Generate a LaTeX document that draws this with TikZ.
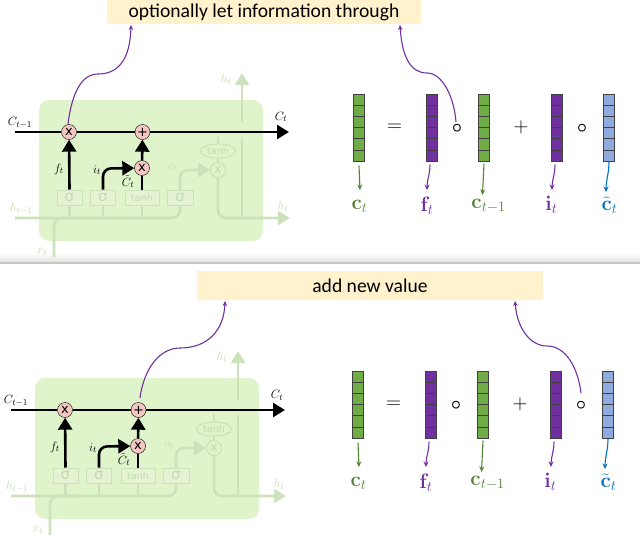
\documentclass[tikz,border=0pt]{standalone}
\usepackage{amsmath,amssymb}
\usepackage{xcolor}
\usepackage[no-math]{fontspec}
\setmainfont{Carlito}
\newfontfamily\cellfont{DejaVu Sans}
\usetikzlibrary{arrows.meta, shapes.geometric, positioning, calc}

\definecolor{cellgreen}{HTML}{DFF4CB}
\definecolor{fadeline}{HTML}{CDE2BC}
\definecolor{fadebox}{HTML}{E6F3D3}
\definecolor{fadetext}{HTML}{C4DBB2}
\definecolor{gatepink}{HTML}{F4C7C3}
\definecolor{notefill}{HTML}{FFF2CC}
\definecolor{vecgreen}{HTML}{70AD47}
\definecolor{vecpurple}{HTML}{7030A0}
\definecolor{vecblue}{HTML}{8FAADC}
\definecolor{arrgreen}{HTML}{548235}
\definecolor{arrblue}{HTML}{0070C0}

\tikzset{
  gate/.style={circle, draw=black, fill=gatepink, inner sep=0pt, minimum size=15pt,
               font=\cellfont\fontsize{13}{13}\selectfont},
  fadegate/.style={circle, draw=fadeline, fill=cellgreen, line width=1pt, inner sep=0pt,
               minimum size=15pt, text=fadetext, font=\cellfont\fontsize{13}{13}\selectfont},
  layerbox/.style={rectangle, draw=fadeline, fill=fadebox, line width=1pt, inner sep=0pt,
               minimum height=15pt, text=fadetext, font=\cellfont\fontsize{9.5}{9.5}\selectfont},
  sigbox/.style={layerbox, font=\cellfont\fontsize{15}{15}\selectfont},
  tanhnode/.style={ellipse, draw=fadeline, fill=cellgreen, line width=1pt, inner sep=0pt,
               minimum width=35pt, minimum height=14pt, text=fadetext,
               font=\cellfont\fontsize{9.5}{9.5}\selectfont},
  mainarr/.style={line width=2.6pt, -{Triangle[length=12pt,width=14pt]}},
  mainline/.style={line width=2.6pt},
  fadearr/.style={draw=fadeline, line width=2.6pt, -{Triangle[length=12pt,width=14pt]}},
  fadeln/.style={draw=fadeline, line width=2.6pt, rounded corners=8pt},
  lab/.style={inner sep=0pt, font=\fontsize{13}{13}\selectfont},
  fadelab/.style={lab, text=fadetext},
  note/.style={rectangle, fill=notefill, inner sep=0pt, font=\fontsize{19.6}{19.6}\selectfont},
  curve/.style={draw=vecpurple, line width=1.1pt, -{Stealth[length=5pt,width=4.5pt]}},
  veccell/.style={rectangle, draw=black!75, line width=0.9pt, inner sep=0pt,
               minimum width=11.5pt, minimum height=11.2pt},
  vecarr/.style={line width=1.1pt, -{Stealth[length=5.5pt,width=5pt]}},
  oper/.style={inner sep=0pt, font=\fontsize{20}{20}\selectfont},
  ringop/.style={inner sep=0pt, font=\fontsize{16}{16}\selectfont},
  veclab/.style={inner sep=0pt, font=\fontsize{21}{21}\selectfont}
}

% one LSTM cell, greyed parts first
\newcommand{\cellpanel}{%
  \node[fill=cellgreen, rounded corners=10pt, minimum width=224pt, minimum height=141pt, inner sep=0pt] (body) at (151,170.5) {};
  \node[sigbox, minimum width=25pt] (sigf) at (69.5,197.5) {σ};
  \node[sigbox, minimum width=25pt] (sigi) at (103,197.5) {σ};
  \node[layerbox, minimum width=34pt] (tanhc) at (142,197.5) {tanh};
  \node[sigbox, minimum width=26pt] (sigo) at (180,197.5) {σ};
  \node[fadegate] (mulo) at (218,170) {x};
  \node[tanhnode] (tanho) at (218,151) {tanh};
  \coordinate (hin) at (15,218);
  \coordinate (xin) at (54,257);
  \coordinate (hout) at (290,218);
  \coordinate (hup) at (242,73);
  \coordinate (hgap) at (242,137);
  \coordinate (hgapup) at (242,122);
  \draw[fadeln] (hin) -- (180,218) -- (sigo.south);
  \draw[fadeln] (xin) -- (54,218) -- (80,218);
  \draw[fadeln] (sigf.south) -- (69.5,218);
  \draw[fadeln] (sigi.south) -- (103,218);
  \draw[fadeln] (tanhc.south) -- (142,218);
  \draw[fadearr, rounded corners=8pt] (sigo.north) -- (180,170) -- (mulo.west);
  \draw[fadearr, rounded corners=8pt] (mulo.south) -- (218,218) -- (hout);
  \draw[fadeln] (242,218) -- (hgap);
  \draw[fadearr] (hgapup) -- (hup);
  \draw[fadeln] (tanho.south) -- (mulo.north);
  \draw[fadeln] (tanho.north) -- (218,136);
  \node[fadelab] (loh) at (21,209) {$h_{t-1}$};
  \node[fadelab] (lox) at (42,252) {$x_t$};
  \node[fadelab] (loo) at (173,168) {$o_t$};
  \node[fadelab] (lhu) at (226,79) {$h_t$};
  \node[fadelab] (lhr) at (283,206) {$h_t$};
  % the black path
  \node[gate] (mulf) at (69,132) {x};
  \node[gate] (add) at (142.5,132) {+};
  \node[gate] (muli) at (142,168) {x};
  \coordinate (cin) at (15,132);
  \coordinate (cout) at (289,132);
  \draw[mainline] (cin) -- (mulf);
  \draw[mainline] (mulf) -- (add);
  \draw[mainarr] (add) -- (cout);
  \draw[mainarr] (sigf.north) -- (mulf);
  \draw[mainarr, rounded corners=8pt] (sigi.north) -- (103,168.5) -- (muli);
  \draw[mainarr] (muli) -- (add);
  \draw[mainline] (tanhc.north) -- (muli);
  \node[lab] (lcp) at (20,123) {$C_{t-1}$};
  \node[lab] (lcn) at (281,117) {$C_t$};
  \node[lab] (lf) at (59,169) {$f_t$};
  \node[lab] (li) at (97,170) {$i_t$};
  \node[lab] (lct) at (128,181.5) {$\tilde{C}_t$};
}

% vectors of the equation, x positions come from the list
\newcommand{\vecrow}{%
  \foreach \vname/\vx/\vcol in {vc/359/vecgreen, vf/432/vecpurple, vp/484/vecgreen, vi/557/vecpurple, vt/609/vecblue}{
    \foreach \k in {0,...,5}{
      \node[veccell, fill=\vcol] (\vname\k) at (\vx,{99.6+11.2*\k}) {};
    }
  }
  \node[oper] (eq) at (394.5,128) {$=$};
  \node[ringop] (ofa) at (457,128) {$\boldsymbol{\circ}$};
  \node[oper] (pl) at (521,127.5) {$+$};
  \node[ringop] (ofb) at (582,128) {$\boldsymbol{\circ}$};
  \node[veclab, text=arrgreen] (lc) at (359.5,206) {$\mathbf{c}_t$};
  \node[veclab, text=vecpurple] (lft) at (427,206) {$\mathbf{f}_t$};
  \node[veclab, text=arrgreen] (lcm) at (488.5,206) {$\mathbf{c}_{t-1}$};
  \node[veclab, text=vecpurple] (lit) at (551.5,205) {$\mathbf{i}_t$};
  \node[veclab, text=arrblue] (ltl) at (609.5,205) {$\tilde{\mathbf{c}}_t$};
  \draw[vecarr, draw=arrgreen] ($(vc5.south)+(0,4)$) -- ($(lc)+(0.5,-16)$);
  \draw[vecarr, draw=vecpurple] ($(vf5.south)+(-2,3)$) to[out=-90,in=90] ($(lft)+(0,-16)$);
  \draw[vecarr, draw=arrgreen] ($(vp5.south)+(0,2)$) -- ($(lcm)+(-6,-11)$);
  \draw[vecarr, draw=vecpurple] ($(vi5.south)+(-2,3)$) to[out=-90,in=90] ($(lit)+(0.5,-15)$);
  \draw[vecarr, draw=arrblue] (vt5.south) to[out=-90,in=90] ($(ltl)+(-3.5,-13)$);
}

\begin{document}
\begin{tikzpicture}[x=1pt, y=-1pt]
\useasboundingbox (0,0) rectangle (640,543);
\shade[top color=white, bottom color=black!12] (0,253) rectangle (640,262);
\fill[black!22] (0,262) rectangle (640,264);

\begin{scope}[name prefix=a-]
\cellpanel
\vecrow
\node[note, minimum width=314pt, minimum height=24pt] (note) at (264,12) {optionally let information through};
\coordinate (noteL) at (131,25);
\coordinate (noteR) at (400,25);
\coordinate (startL) at (68,124);
\coordinate (startR) at (456,122);
\draw[curve] (startL) .. controls (72,92) and (82,74) .. (98,74) .. controls (118,74) and (130,60) .. (noteL);
\draw[curve] (startR) .. controls (454,96) and (442,73) .. (427,73) .. controls (410,73) and (402,56) .. (noteR);
\end{scope}

\begin{scope}[name prefix=b-, shift={(-4,278)}]
\cellpanel
\end{scope}
\begin{scope}[name prefix=b-, shift={(-1,277)}]
\vecrow
\end{scope}
\node[note, minimum width=346pt, minimum height=29pt] (b-note) at (370,285.5) {add new value};
\coordinate (b-noteL) at (225,301);
\coordinate (b-noteR) at (515,301);
\coordinate (b-startL) at (140,398);
\coordinate (b-startR) at (581,393);
\draw[curve] (b-startL) .. controls (144,368) and (160,348) .. (180,348) .. controls (208,348) and (224,330) .. (b-noteL);
\draw[curve] (b-startR) .. controls (578,368) and (566,346) .. (547,346) .. controls (530,346) and (517,328) .. (b-noteR);
\end{tikzpicture}
\end{document}
